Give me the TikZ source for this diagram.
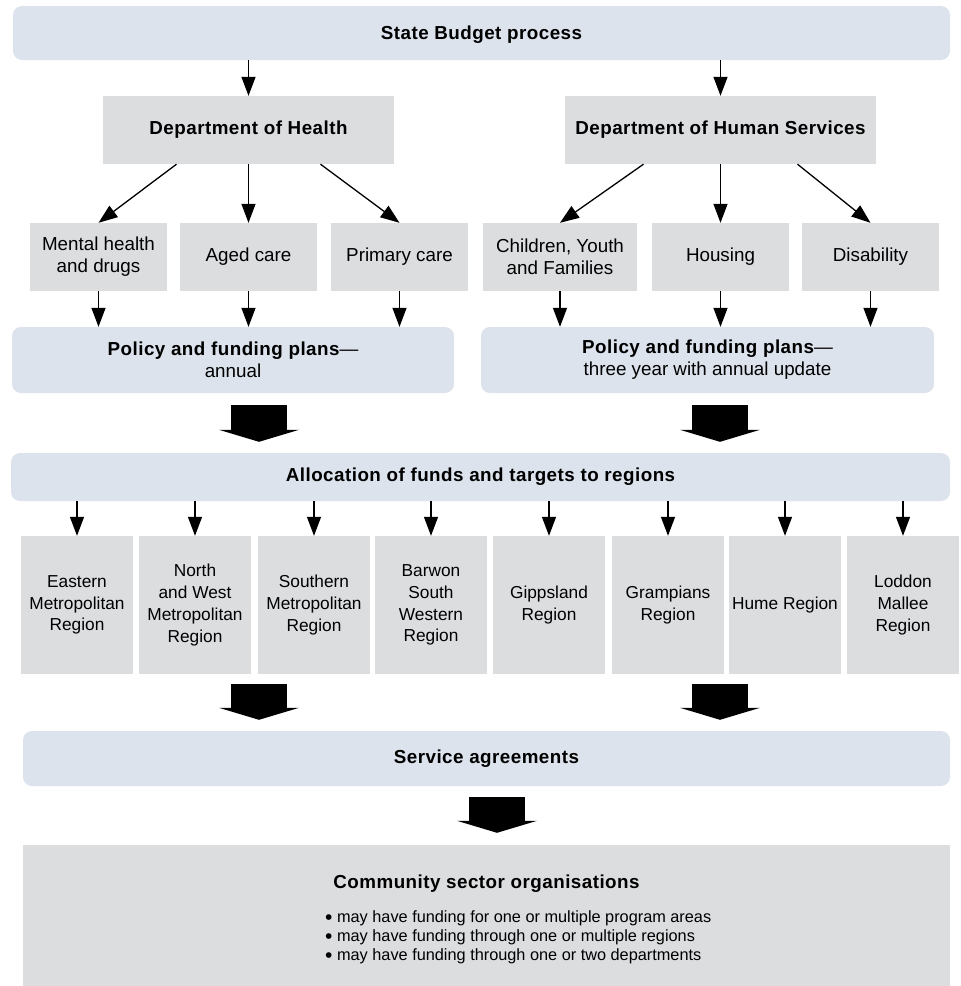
\documentclass[tikz,border=0pt]{standalone}
\usepackage{fontspec}
\setmainfont{Liberation Sans}
\usetikzlibrary{arrows.meta,calc}
\definecolor{bluebox}{RGB}{220,227,236}
\definecolor{graybox}{RGB}{220,221,223}
\newcommand\myfbold{\fontsize{18.8}{22}\selectfont\bfseries\addfontfeatures{LetterSpace=2.5}}
\newcommand\myfsub{\fontsize{18.8}{22}\selectfont}
\newcommand\myfreg{\fontsize{17.3}{21.7}\selectfont}
\newcommand\myfbul{\fontsize{16.3}{19}\selectfont}
\newcommand\mybul{\raisebox{-2.6pt}{\fontsize{21}{19}\selectfont\textbullet}}
\begin{document}
\begin{tikzpicture}[x=1pt,y=-1pt,
  planbox/.style={fill=bluebox, rounded corners=9pt, inner sep=0pt, align=center},
  graybx/.style={fill=graybox, inner sep=0pt, align=center},
  subbx/.style={graybx, minimum width=137pt, minimum height=68pt, font=\myfsub},
  regbx/.style={graybx, minimum width=112pt, minimum height=138pt, font=\myfreg},
  link/.style={line width=1.3pt, -{Triangle[width=14pt,length=19pt]}},
  bigarr/.style={line width=56pt, -{Triangle[width=80pt,length=12pt,line width=0pt]}}
]
\useasboundingbox (0,0) rectangle (961,986);

% top
\node[planbox, minimum width=937pt, minimum height=54pt, font=\myfbold, text depth=0pt] (sbp) at (481.5,33) {State Budget process};
\node[graybx, minimum width=291pt, minimum height=68pt, font=\myfbold] (doh) at (248.5,130) {Department of Health};
\node[graybx, minimum width=311pt, minimum height=68pt, font=\myfbold] (dhs) at (720.5,130) {Department of Human Services};

% programs
\node[subbx] (mh) at (98.5,257) {Mental health\\and drugs};
\node[subbx] (ac) at (248.5,257) {Aged care};
\node[subbx] (pc) at (399.5,257) {Primary care};
\node[subbx, minimum width=154pt] (cyf) at (560,257) {Children, Youth\\and Families};
\node[subbx] (hou) at (720.5,257) {Housing};
\node[subbx] (dis) at (870.5,257) {Disability};

% policy
\node[planbox, minimum width=442pt, minimum height=66pt, font=\myfsub] (polL) at (233,360) {{\bfseries\addfontfeatures{LetterSpace=2.5}Policy and funding plans}—\\annual};
\node[planbox, minimum width=453pt, minimum height=66pt, font=\myfsub] (polR) at (707.5,360) {{\bfseries\addfontfeatures{LetterSpace=2.5}Policy and funding plans}—\\three year with annual update};

% allocation
\node[planbox, minimum width=939pt, minimum height=48pt, font=\myfbold] (alloc) at (480.5,477) {Allocation of funds and targets to regions};

% regions
\node[regbx] (r1) at (77,605) {Eastern\\Metropolitan\\Region};
\node[regbx] (r2) at (195,605) {North\\and West\\Metropolitan\\Region};
\node[regbx] (r3) at (314,605) {Southern\\Metropolitan\\Region};
\node[regbx] (r4) at (431,605) {Barwon\\South\\Western\\Region};
\node[regbx] (r5) at (549,605) {Gippsland\\Region};
\node[regbx] (r6) at (668,605) {Grampians\\Region};
\node[regbx] (r7) at (785,605) {Hume Region};
\node[regbx] (r8) at (903,605) {Loddon\\Mallee\\Region};

% service agreements
\node[planbox, minimum width=927pt, minimum height=55pt, font=\myfbold] (svc) at (486.5,758.5) {Service agreements};

% community
\node[graybx, minimum width=927pt, minimum height=141pt] (cso) at (486.5,915.5) {};
\node[font=\myfbold, inner sep=0pt] (csot) at (486.5,884) {Community sector organisations};
\node[font=\myfbul, inner sep=0pt, anchor=west, align=left] (csob) at (325,937) {%
\mybul\ may have funding for one or multiple program areas\\
\mybul\ may have funding through one or multiple regions\\
\mybul\ may have funding through one or two departments};

% thin connectors
\draw[link] (sbp.south -| doh) -- (doh.north);
\draw[link] (sbp.south -| dhs) -- (dhs.north);
\draw[link] ($(doh.south)+(-72,0)$) -- (mh.north);
\draw[link] (doh.south) -- (ac.north);
\draw[link] ($(doh.south)+(72,0)$) -- (pc.north);
\draw[link] ($(dhs.south)+(-77,0)$) -- (cyf.north);
\draw[link] (dhs.south) -- (hou.north);
\draw[link] ($(dhs.south)+(77,0)$) -- (dis.north);
\foreach \s in {mh,ac,pc}{\draw[link] (\s.south) -- (\s.south |- polL.north);}
\foreach \s in {cyf,hou,dis}{\draw[link] (\s.south) -- (\s.south |- polR.north);}
\foreach \r in {r1,r2,r3,r4,r5,r6,r7,r8}{\draw[link] (alloc.south -| \r) -- (\r.north);}

% block arrows
\coordinate (bxL) at (259,0);
\coordinate (bxR) at (720,0);
\coordinate (bxC) at (497,0);
\draw[bigarr, shorten <=12pt, shorten >=11pt] (polL.south -| bxL) -- (alloc.north -| bxL);
\draw[bigarr, shorten <=12pt, shorten >=11pt] (polR.south -| bxR) -- (alloc.north -| bxR);
\draw[bigarr, shorten <=10pt, shorten >=11pt] (bxL |- r1.south) -- (bxL |- svc.north);
\draw[bigarr, shorten <=10pt, shorten >=11pt] (bxR |- r1.south) -- (bxR |- svc.north);
\draw[bigarr, shorten <=11pt, shorten >=12pt] (svc.south -| bxC) -- (cso.north -| bxC);
\end{tikzpicture}
\end{document}
